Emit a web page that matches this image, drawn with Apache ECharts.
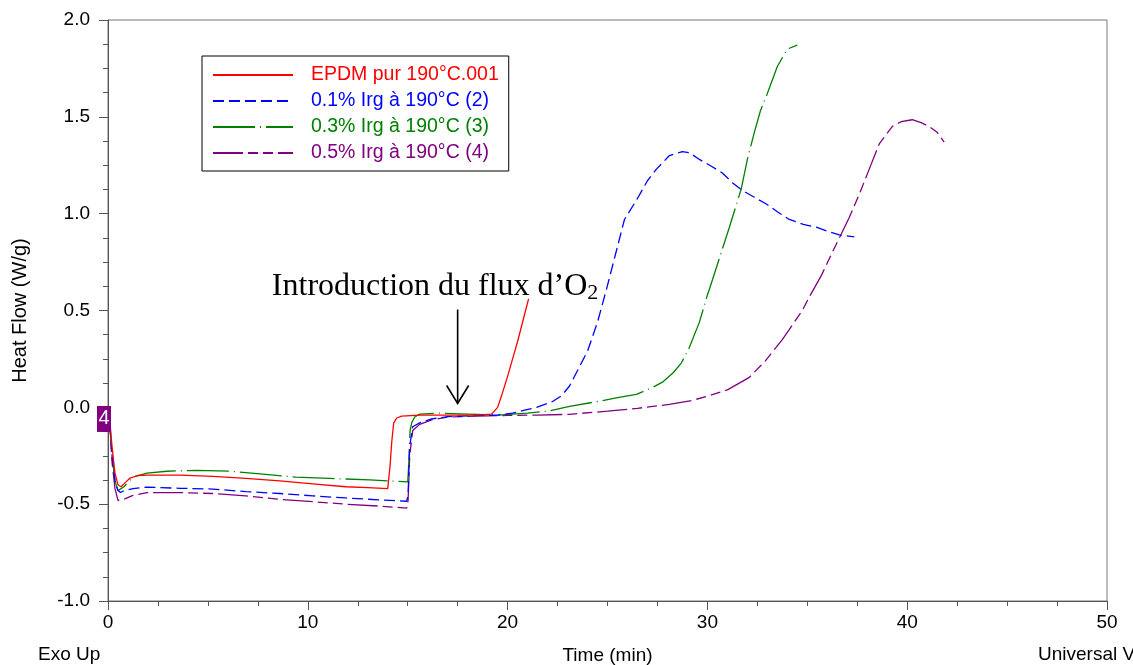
<!DOCTYPE html>
<html>
<head>
<meta charset="utf-8">
<script src="https://cdn.jsdelivr.net/npm/echarts@6/dist/echarts.min.js"></script>
<style>
html,body{margin:0;padding:0;background:#fff;}
#chart{width:1133px;height:665px;}
</style>
</head>
<body>
<div id="chart"></div>
<script>
// ---- data (time in min, heat flow in W/g) ----
const seriesNames = ['EPDM pur 190°C.001', '0.1% Irg à 190°C (2)', '0.3% Irg à 190°C (3)', '0.5% Irg à 190°C (4)'];
const xTicks = [0, 10, 20, 30, 40, 50];
const yTicks = [-1.0, -0.5, 0.0, 0.5, 1.0, 1.5, 2.0];

const epdmPur = [[0,0.0],[0.1,-0.08],[0.2,-0.2],[0.35,-0.34],[0.5,-0.40],[0.65,-0.41],[0.85,-0.39],[1.1,-0.365],[1.5,-0.352],[1.95,-0.35],[3.6,-0.35],[5.25,-0.357],[6.9,-0.367],[8.6,-0.38],[10.25,-0.395],[11.9,-0.41],[13.0,-0.415],[14.0,-0.42],[14.07,-0.43],[14.12,-0.3],[14.2,-0.18],[14.3,-0.08],[14.45,-0.055],[14.7,-0.045],[15.6,-0.04],[17,-0.04],[18.5,-0.04],[19.2,-0.035],[19.5,0.0],[19.75,0.077],[20.0,0.16],[20.25,0.25],[20.5,0.34],[20.7,0.42],[20.9,0.5],[21.05,0.56]];

const irg01 = [[0,0.0],[0.1,-0.1],[0.2,-0.25],[0.35,-0.38],[0.5,-0.43],[0.62,-0.44],[0.8,-0.43],[1.25,-0.42],[1.95,-0.412],[3.6,-0.418],[5.25,-0.422],[6.9,-0.435],[8.6,-0.445],[10.25,-0.457],[11.9,-0.468],[13.6,-0.478],[14.95,-0.485],[15.02,-0.45],[15.1,-0.2],[15.25,-0.1],[15.6,-0.08],[16.2,-0.06],[17,-0.048],[18.5,-0.042],[19.5,-0.04],[20.25,-0.03],[20.85,-0.015],[21.45,0.0],[22.25,0.03],[22.7,0.06],[23.1,0.11],[23.5,0.19],[24.0,0.29],[24.5,0.44],[24.95,0.61],[25.45,0.81],[25.85,0.97],[26.45,1.07],[27.0,1.17],[27.45,1.23],[28.1,1.30],[28.75,1.32],[29.1,1.315],[29.6,1.28],[30.2,1.245],[30.75,1.21],[31.25,1.16],[31.75,1.12],[32.35,1.085],[32.95,1.05],[33.5,1.01],[34.1,0.97],[34.8,0.945],[35.45,0.93],[36.0,0.91],[36.6,0.89],[37.35,0.88]];

const irg03 = [[0,0.0],[0.1,-0.1],[0.2,-0.25],[0.35,-0.38],[0.5,-0.43],[0.6,-0.435],[0.8,-0.41],[1.25,-0.36],[1.95,-0.34],[2.95,-0.33],[4.45,-0.325],[6.1,-0.33],[7.75,-0.345],[9.4,-0.36],[11.1,-0.367],[13.1,-0.375],[14.1,-0.38],[15.0,-0.385],[15.05,-0.3],[15.12,-0.12],[15.2,-0.08],[15.35,-0.05],[15.6,-0.035],[16.5,-0.03],[18,-0.035],[19.5,-0.04],[21,-0.03],[22,-0.02],[23.1,0.005],[24.5,0.03],[25.5,0.05],[26.45,0.067],[27.2,0.10],[27.75,0.13],[28.3,0.18],[28.7,0.23],[29.1,0.31],[29.6,0.44],[30.0,0.58],[30.1,0.61],[30.6,0.77],[31.1,0.93],[31.7,1.13],[32.0,1.28],[32.35,1.42],[32.65,1.53],[33.0,1.62],[33.5,1.76],[34.0,1.85],[34.5,1.87]];

const irg05 = [[0,0.0],[0.1,-0.1],[0.2,-0.28],[0.35,-0.42],[0.5,-0.48],[0.6,-0.49],[0.8,-0.475],[1.25,-0.455],[1.95,-0.44],[3.6,-0.44],[5.25,-0.445],[6.9,-0.457],[8.6,-0.475],[10.25,-0.487],[11.9,-0.5],[13.6,-0.51],[14.95,-0.52],[15.02,-0.48],[15.1,-0.25],[15.25,-0.12],[15.6,-0.088],[16.2,-0.065],[17,-0.05],[18.5,-0.045],[20,-0.042],[21.5,-0.04],[23.1,-0.036],[25,-0.02],[26.5,-0.005],[28.1,0.015],[29.2,0.035],[30.0,0.057],[31.0,0.09],[32.1,0.155],[32.9,0.24],[33.75,0.35],[34.75,0.5],[35.1,0.57],[35.7,0.68],[36.25,0.8],[37.1,0.98],[37.6,1.1],[38.1,1.23],[38.6,1.36],[39.25,1.45],[39.7,1.475],[40.25,1.485],[40.7,1.47],[41.1,1.45],[41.5,1.42],[41.85,1.37]];

const annotationText = 'Introduction du flux d’O';
const annotationSub = '2';
const arrowTime = 17.5, arrowTop = 0.505, arrowBottom = 0.02;

// ---- chart ----
const FONT = "'Liberation Sans', Arial, sans-serif";
const colors = ['#ff0000', '#0000ff', '#008000', '#800080'];
const dashes = ['solid', [11, 5], [42, 5, 1, 5], [30, 5, 10, 5, 10, 5]];
const datasets = [epdmPur, irg01, irg03, irg05];

const chart = echarts.init(document.getElementById('chart'), null, {renderer: 'canvas'});

const axisCommon = {
  axisLine: {show: true, onZero: false, lineStyle: {color: '#555', width: 1}},
  axisTick: {show: true, length: 9, lineStyle: {color: '#555'}},
  minorTick: {show: true, splitNumber: 4, length: 5, lineStyle: {color: '#555'}},
  splitLine: {show: false},
  minorSplitLine: {show: false}
};

chart.setOption({
  animation: false,
  backgroundColor: '#fff',
  grid: {left: 108, right: 26, top: 20, bottom: 64, show: true, borderColor: '#777', borderWidth: 1,
    backgroundColor: 'transparent', containLabel: false, outerBoundsMode: 'none'},
  xAxis: Object.assign({
    type: 'value', min: xTicks[0], max: xTicks[xTicks.length - 1], interval: 10,
    name: 'Time (min)', nameLocation: 'middle', nameGap: 45,
    nameTextStyle: {fontFamily: FONT, fontSize: 19, color: '#000'},
    axisLabel: {fontFamily: FONT, fontSize: 19, color: '#000', margin: 12}
  }, axisCommon),
  yAxis: Object.assign({
    type: 'value', min: yTicks[0], max: yTicks[yTicks.length - 1], interval: 0.5,
    name: 'Heat Flow (W/g)', nameLocation: 'middle', nameGap: 78,
    nameTextStyle: {fontFamily: FONT, fontSize: 20, color: '#000'},
    axisLabel: {fontFamily: FONT, fontSize: 19, color: '#000', margin: 18,
      formatter: v => v.toFixed(1)}
  }, axisCommon),
  legend: {
    orient: 'vertical', left: 202, top: 56,
    backgroundColor: '#fff', borderColor: '#000', borderWidth: 1,
    padding: [9, 10, 8, 10], itemGap: 6, itemWidth: 80, itemHeight: 14,
    selectedMode: false,
    itemStyle: {opacity: 0, borderWidth: 0},
    data: seriesNames.map((n, i) => ({name: n, textStyle: {color: colors[i]}})),
    textStyle: {fontFamily: FONT, fontSize: 19.5, padding: [0, 0, 0, 13]}
  },
  series: seriesNames.map((n, i) => ({
    name: n, type: 'line', data: datasets[i], symbol: 'none', showSymbol: false,
    smooth: false, z: 10 - i,
    lineStyle: {color: colors[i], width: 1.3, type: dashes[i]},
    itemStyle: {color: colors[i]}
  }))
});

function drawAnnotations() {
  const top = chart.convertToPixel({gridIndex: 0}, [arrowTime, arrowTop]);
  const bot = chart.convertToPixel({gridIndex: 0}, [arrowTime, arrowBottom]);
  const badge = chart.convertToPixel({gridIndex: 0}, [0, -0.06]);
  const textPos = chart.convertToPixel({gridIndex: 0}, [8.2, 0.535]);
  chart.setOption({
    graphic: [
      {type: 'line', shape: {x1: top[0], y1: top[1], x2: bot[0], y2: bot[1]}, style: {stroke: '#000', lineWidth: 1.6}, z: 100},
      {type: 'polyline', shape: {points: [[bot[0] - 11, bot[1] - 18], [bot[0], bot[1]], [bot[0] + 11, bot[1] - 18]]}, style: {stroke: '#000', lineWidth: 1.6, fill: null}, z: 100},
      {type: 'text', x: textPos[0], y: textPos[1], z: 100,
        style: {text: '{a|' + annotationText + '}{s|' + annotationSub + '}', fill: '#000',
          verticalAlign: 'bottom', align: 'left',
          rich: {a: {fontFamily: "'Liberation Serif', 'Times New Roman', serif", fontSize: 32, fill: '#000'},
                 s: {fontFamily: "'Liberation Serif', 'Times New Roman', serif", fontSize: 22, fill: '#000', padding: [12, 0, 0, 0]}}}},
      {type: 'rect', shape: {x: badge[0] - 11, y: badge[1] - 13, width: 14, height: 26}, style: {fill: '#800080'}, z: 110},
      {type: 'text', x: badge[0] - 4, y: badge[1], z: 111,
        style: {text: '4', fill: '#fff', fontFamily: FONT, fontSize: 20, align: 'center', verticalAlign: 'middle'}},
      {type: 'text', x: 38, y: 655, style: {text: 'Exo Up', fill: '#000', fontFamily: FONT, fontSize: 19, verticalAlign: 'middle'}},
      {type: 'text', x: 1038, y: 655, style: {text: 'Universal V4.5A TA Instruments', fill: '#000', fontFamily: FONT, fontSize: 19, verticalAlign: 'middle'}}
    ]
  });
}
drawAnnotations();
</script>
</body>
</html>
